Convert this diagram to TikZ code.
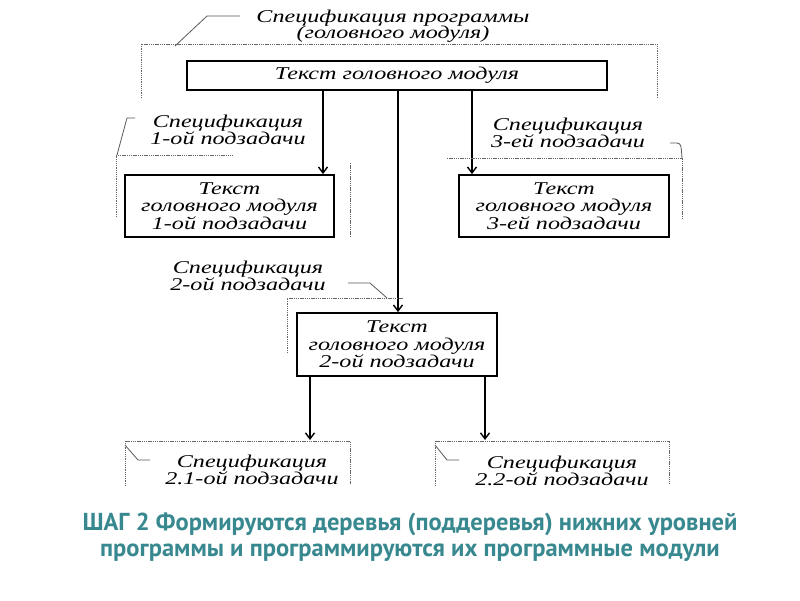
\documentclass[tikz,border=0pt]{standalone}
\usepackage{fontspec}
\setmainfont{Liberation Serif}
\newfontfamily\df[FakeStretch=1.34]{Liberation Serif}
\newfontfamily\capfont{PT Sans}
\usetikzlibrary{arrows.meta}
\definecolor{tealtxt}{RGB}{56,136,144}
\begin{document}
\begin{tikzpicture}[x=1pt,y=-1pt,
  box/.style={draw,line width=1.8pt,inner sep=0pt,align=center,
    font=\df\itshape\fontsize{18}{17.5}\selectfont},
  spec/.style={inner sep=0pt,align=center,
    font=\df\itshape\fontsize{18}{16.5}\selectfont},
  dots/.style={draw=black!60, line width=0.7pt, dash pattern=on 1.3pt off 0.9pt},
  lead/.style={draw=black!65, line width=0.8pt},
  arr/.style={line width=1.6pt,-{Straight Barb[length=6pt,width=9pt,line width=1.4pt]}}
]
\useasboundingbox (0,0) rectangle (800,600);
\fill[white] (0,0) rectangle (800,600);

% boxes
\node[box,minimum width=420pt,minimum height=29pt] (m) at (397,75.5) {Текст головного модуля};
\node[box,minimum width=209pt,minimum height=62pt] (b1) at (229.5,206) {Текст\\головного модуля\\1-ой подзадачи};
\node[box,minimum width=210pt,minimum height=62pt] (b3) at (564,206) {Текст\\головного модуля\\3-ей подзадачи};
\node[box,minimum width=200pt,minimum height=63pt] (b2) at (397,344.5) {Текст\\головного модуля\\2-ой подзадачи};

% spec labels
\node[spec] (s0) at (393,26) {Спецификация программы\\(головного модуля)};
\node[spec] (s1) at (228,130) {Спецификация\\1-ой подзадачи};
\node[spec] (s3) at (568,133) {Спецификация\\3-ей подзадачи};
\node[spec] (s2) at (248,276) {Спецификация\\2-ой подзадачи};
\node[spec] (s21) at (252,470) {Спецификация\\2.1-ой подзадачи};
\node[spec] (s22) at (562,471) {Спецификация\\2.2-ой подзадачи};

% arrows
\coordinate (x1) at (323,0);
\coordinate (x2) at (398,0);
\coordinate (x3) at (472,0);
\coordinate (e21) at (310,440);
\coordinate (e22) at (485,440);
\draw[arr] (m.south -| x1) -- (b1.north -| x1);
\draw[arr] (m.south -| x2) -- (b2.north -| x2);
\draw[arr] (m.south -| x3) -- (b3.north -| x3);
\draw[arr] (b2.south -| e21) -- (e21);
\draw[arr] (b2.south -| e22) -- (e22);

% dotted frames
\draw[dots] (141,98) -- (141,44) -- (657,44) -- (657,98);
\draw[dots] (116,217) -- (116,155) -- (233,155);
\draw[dots] (350,163) -- (350,237);
\draw[dots] (447,158) -- (682,158) -- (682,218);
\draw[dots] (287,353) -- (287,298) -- (403,298);
\draw[dots] (125,486) -- (125,441) -- (350,441) -- (350,484);
\draw[dots] (435,486) -- (435,441) -- (669,441) -- (669,484);

% leaders
\draw[lead] (240,16) -- (207,16) -- (175,46);
\draw[lead] (135,118) -- (127,118) -- (117,155);
\draw[lead] (670,143) -- (677,143) .. controls (681,144) .. (682,158);
\draw[lead] (348,283) -- (370,283) -- (387,298);
\draw[lead] (125,445) -- (138,460) -- (150,460);
\draw[lead] (435,445) -- (447,460) -- (459,460);

% caption
\node[inner sep=0pt,align=center,text=tealtxt,
  font=\capfont\bfseries\fontsize{24.5}{25.5}\selectfont] (cap) at (410,537)
  {ШАГ 2 Формируются деревья (поддеревья) нижних уровней\\программы и программируются их программные модули};
\end{tikzpicture}
\end{document}
